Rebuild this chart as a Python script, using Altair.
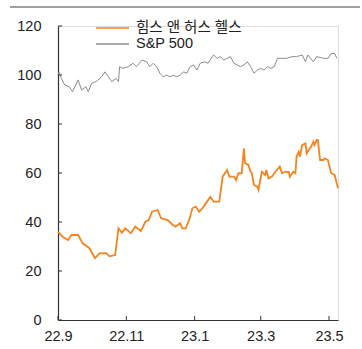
import altair as alt
import pandas as pd

# 힘스 앤 허스 헬스 (indexed)
hims_dates = [
    "2022-09-01", "2022-09-05", "2022-09-10", "2022-09-13", "2022-09-19", "2022-09-23",
    "2022-09-29", "2022-10-04", "2022-10-08", "2022-10-14", "2022-10-17", "2022-10-22",
    "2022-10-25", "2022-10-28", "2022-10-31", "2022-11-05", "2022-11-09", "2022-11-14",
    "2022-11-18", "2022-11-21", "2022-11-24", "2022-11-29", "2022-12-02", "2022-12-08",
    "2022-12-12", "2022-12-15", "2022-12-19", "2022-12-21", "2022-12-24", "2022-12-27",
    "2022-12-28", "2022-12-30", "2023-01-02", "2023-01-05", "2023-01-08", "2023-01-11",
    "2023-01-15", "2023-01-18", "2023-01-23", "2023-01-24", "2023-01-26", "2023-01-30",
    "2023-02-01", "2023-02-05", "2023-02-07", "2023-02-09", "2023-02-12", "2023-02-14",
    "2023-02-15", "2023-02-18", "2023-02-20", "2023-02-21", "2023-02-23", "2023-02-26",
    "2023-02-27", "2023-03-02", "2023-03-05", "2023-03-06", "2023-03-08", "2023-03-11",
    "2023-03-14", "2023-03-18", "2023-03-20", "2023-03-23", "2023-03-26", "2023-03-27",
    "2023-03-30", "2023-04-01", "2023-04-02", "2023-04-04", "2023-04-05", "2023-04-07",
    "2023-04-10", "2023-04-11", "2023-04-14", "2023-04-15", "2023-04-17", "2023-04-18",
    "2023-04-20", "2023-04-21", "2023-04-23", "2023-04-26", "2023-04-27", "2023-04-30",
    "2023-05-01", "2023-05-03", "2023-05-06", "2023-05-09",
]
hims_vals = [
    36.0, 34.0, 32.6, 34.7, 34.7, 31.3,
    29.3, 25.2, 27.2, 27.3, 26.0, 26.5,
    37.4, 35.6, 37.4, 35.4, 38.1, 36.3,
    40.1, 40.8, 44.2, 44.9, 41.5, 40.8,
    39.0, 38.1, 39.5, 37.4, 37.4, 40.8,
    42.2, 45.6, 46.3, 44.2, 45.6, 47.6,
    50.3, 48.3, 48.3, 51.7, 58.5, 61.2,
    58.5, 58.5, 57.1, 59.9, 59.9, 70.1,
    64.0, 63.3, 60.5, 59.9, 55.1, 54.4,
    53.1, 60.5, 59.2, 61.2, 57.8, 58.5,
    60.5, 62.6, 59.9, 60.5, 60.5, 58.5,
    60.5, 59.9, 66.7, 68.7, 66.7, 71.4,
    72.1, 68.0, 70.1, 70.8, 72.8, 71.4,
    73.5, 73.5, 65.3, 65.3, 66.0, 65.3,
    63.3, 59.9, 59.2, 53.8,
]

# S&P 500 (indexed)
sp_dates = [
    "2022-09-01", "2022-09-02", "2022-09-04", "2022-09-07", "2022-09-11", "2022-09-14",
    "2022-09-19", "2022-09-22", "2022-09-26", "2022-09-28", "2022-10-01", "2022-10-05",
    "2022-10-10", "2022-10-13", "2022-10-15", "2022-10-19", "2022-10-23", "2022-10-25",
    "2022-10-26", "2022-10-29", "2022-11-03", "2022-11-07", "2022-11-10", "2022-11-15",
    "2022-11-19", "2022-11-22", "2022-11-25", "2022-11-28", "2022-12-01", "2022-12-04",
    "2022-12-07", "2022-12-10", "2022-12-13", "2022-12-16", "2022-12-19", "2022-12-22",
    "2022-12-25", "2022-12-28", "2022-12-31", "2023-01-03", "2023-01-06", "2023-01-10",
    "2023-01-13", "2023-01-18", "2023-01-21", "2023-01-24", "2023-01-27", "2023-01-30",
    "2023-02-02", "2023-02-05", "2023-02-08", "2023-02-11", "2023-02-14", "2023-02-17",
    "2023-02-20", "2023-02-23", "2023-02-26", "2023-03-01", "2023-03-04", "2023-03-07",
    "2023-03-10", "2023-03-13", "2023-03-16", "2023-03-20", "2023-03-24", "2023-03-29",
    "2023-04-02", "2023-04-07", "2023-04-10", "2023-04-12", "2023-04-17", "2023-04-20",
    "2023-04-26", "2023-04-30", "2023-05-03", "2023-05-06", "2023-05-08",
]
sp_vals = [
    100.0, 101.3, 98.6, 95.9, 95.2, 93.2,
    98.0, 93.9, 95.2, 93.2, 96.6, 97.3,
    99.3, 101.3, 99.9, 97.3, 98.6, 97.3,
    103.4, 102.7, 103.4, 104.8, 103.4, 106.1,
    105.4, 103.4, 104.8, 103.4, 100.7, 99.3,
    99.9, 99.3, 99.9, 99.3, 99.9, 101.3,
    100.7, 103.4, 104.1, 102.0, 104.8, 105.4,
    104.8, 108.2, 106.8, 107.5, 106.1, 106.8,
    107.5, 104.8, 104.1, 103.4, 104.1, 105.4,
    103.4, 100.7, 102.0, 102.7, 102.0, 103.4,
    102.7, 103.4, 106.8, 106.8, 106.8, 107.5,
    107.5, 108.2, 105.4, 108.2, 105.4, 107.5,
    106.8, 106.8, 108.8, 108.8, 106.8,
]

series_names = ["힘스 앤 허스 헬스", "S&P 500"]
series_colors = ["#F5841F", "#8C8C8C"]

y_ticks = [0, 20, 40, 60, 80, 100, 120]
x_tick_dates = ["2022-09-01", "2022-11-01", "2023-01-01", "2023-03-01", "2023-05-01"]

hims_df = pd.DataFrame({"date": hims_dates, "value": hims_vals, "series": series_names[0]})
sp_df = pd.DataFrame({"date": sp_dates, "value": sp_vals, "series": series_names[1]})

FONT = "Liberation Sans, Noto Sans CJK KR"
x_scale = alt.Scale(type="utc", domain=["2022-09-01", "2023-05-09"])
y_scale = alt.Scale(domain=[0, 120], nice=False, zero=True)

x_axis = alt.Axis(title=None,
                  values=[alt.DateTime(year=int(d[:4]), month=int(d[5:7]), date=1, utc=True) for d in x_tick_dates],
                  labelExpr="utcFormat(datum.value, '%y.') + (utcmonth(datum.value) + 1)",
                  ticks=False, grid=False, domainColor="#333", domainWidth=1.2,
                  labelFlush=False, labelOverlap=False,
                  labelFont=FONT, labelFontSize=14.5, labelColor="#222", labelPadding=9)
y_axis = alt.Axis(title=None, values=y_ticks, ticks=False, grid=False, domainColor="#333",
                  domainWidth=1.2, labelFont=FONT, labelFontSize=14.5, labelColor="#222",
                  labelPadding=17)

color = alt.Color("series:N",
                  scale=alt.Scale(domain=series_names, range=series_colors),
                  legend=alt.Legend(title=None, orient="none", legendX=46, legendY=-6.5,
                                    symbolType="M-2.2,0H2.2", symbolSize=225, symbolStrokeWidth=1.5,
                                    labelFont=FONT, labelFontSize=14.5, labelColor="#222",
                                    labelOffset=15, rowPadding=1, labelLimit=300))

hims_line = alt.Chart(hims_df).mark_line(strokeWidth=1.8).encode(
    x=alt.X("date:T", scale=x_scale, axis=x_axis),
    y=alt.Y("value:Q", scale=y_scale, axis=y_axis),
    color=color,
)
sp_line = alt.Chart(sp_df).mark_line(strokeWidth=1.0).encode(
    x=alt.X("date:T", scale=x_scale, axis=x_axis),
    y=alt.Y("value:Q", scale=y_scale, axis=y_axis),
    color=color,
)

ytick_df = pd.DataFrame({"value": y_ticks})
ytick_rules = alt.Chart(ytick_df).mark_rule(color="#333", strokeWidth=1).encode(
    y=alt.Y("value:Q", scale=y_scale, axis=y_axis),
    x=alt.value(0), x2=alt.value(4),
)

xtick_df = pd.DataFrame({"date": x_tick_dates})
xtick_rules = alt.Chart(xtick_df).mark_rule(color="#333", strokeWidth=1).encode(
    x=alt.X("date:T", scale=x_scale, axis=x_axis),
    y=alt.value(294), y2=alt.value(290),
)

top_rule = alt.Chart(pd.DataFrame({"k": [0]})).mark_rule(color="#808080", strokeWidth=1.5).encode(
    x=alt.value(-48), x2=alt.value(302), y=alt.value(-19),
)

chart = alt.layer(sp_line, hims_line, ytick_rules, xtick_rules, top_rule).properties(
    width=280, height=294,
    autosize=alt.AutoSizeParams(type="none"),
    padding={"left": 58, "top": 26, "right": 24, "bottom": 29},
).configure_view(stroke=None).configure(background="white")

chart.save("out.html", embed_options={"renderer": "svg", "actions": False})
